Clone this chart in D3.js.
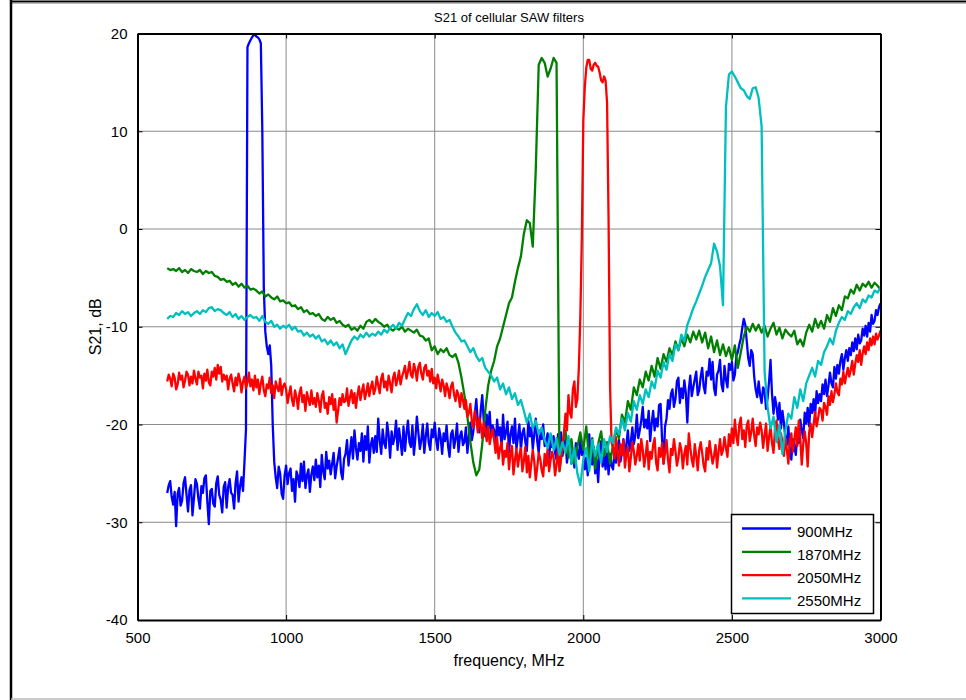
<!DOCTYPE html>
<html>
<head>
<meta charset="utf-8">
<script src="https://cdn.jsdelivr.net/npm/d3@7/dist/d3.min.js"></script>
<style>
  body { margin: 0; background: #fff; }
  svg text { font-family: "Liberation Sans", Arial, sans-serif; fill: #000; }
</style>
</head>
<body>
<div id="container"></div>
<script>
// sweeps start at 600 MHz; blue and red were read every 5 MHz, green and cyan every 10 MHz
const freqStart = 600;

// S21 (dB), 900MHz filter, 5 MHz per sample, one row per 100 MHz
const s900 = [
  -27.0, -26.2, -25.8, -27.4, -28.2, -26.9, -30.4, -27.1, -26.5, -28.3, -27.8, -26.0, -25.4, -27.2, -28.9, -26.7, -26.2, -29.3, -27.5, -25.6,
  -26.1, -27.6, -28.6, -26.3, -27.0, -25.5, -25.2, -27.9, -30.2, -26.8, -26.6, -28.1, -28.4, -26.0, -25.3, -27.2, -27.7, -29.0, -26.4, -25.9,
  -28.5, -26.4, -25.6, -27.0, -27.2, -28.6, -26.0, -24.8, -27.9, -26.3, -25.4, -26.8, -23.8, -20.5, 18.6, 19.0, 19.3, 19.6, 19.8, 19.9,
  19.7, 19.6, 19.4, 19.0, 10.0, -6.0, -10.5, -12.0, -12.8, -11.9, -14.0, -20.0, -23.8, -25.4, -26.5, -24.3, -25.0, -27.1, -27.6, -25.2,
  -24.2, -26.1, -25.0, -24.5, -26.8, -25.6, -27.9, -24.8, -25.3, -26.4, -24.0, -25.8, -23.8, -26.5, -25.2, -24.6, -26.9, -25.1, -24.3, -25.7,
  -23.6, -25.4, -24.2, -26.4, -23.1, -24.8, -25.6, -22.8, -24.5, -23.7, -25.1, -24.0, -22.9, -25.5, -24.3, -23.4, -22.4, -24.9, -25.6, -23.5,
  -23.0, -21.6, -24.2, -22.8, -21.3, -23.5, -20.6, -22.4, -23.6, -21.9, -22.7, -20.9, -23.8, -21.2, -22.6, -20.2, -23.9, -22.1, -21.4, -22.9,
  -21.2, -22.8, -19.4, -21.6, -23.0, -20.5, -21.9, -22.4, -19.8, -21.1, -23.4, -20.7, -22.0, -21.3, -19.6, -22.6, -20.4, -21.7, -23.1, -20.2,
  -22.7, -20.9, -19.6, -21.8, -22.3, -20.1, -23.1, -21.4, -19.2, -20.8, -22.5, -21.6, -20.0, -22.9, -21.2, -19.9, -21.9, -22.6, -20.5, -21.3,
  -19.8, -21.6, -22.6, -20.4, -21.3, -23.0, -20.9, -21.7, -20.1, -22.2, -23.3, -21.0, -20.6, -22.4, -21.5, -19.9, -22.8, -21.2, -20.7, -22.1,
  -21.8, -20.3, -22.9, -21.2, -19.8, -21.6, -20.7, -18.9, -17.4, -19.9, -20.8, -18.5, -17.0, -19.6, -21.2, -19.0, -20.4, -18.7, -21.3, -20.1,
  -20.6, -22.3, -19.5, -21.1, -20.3, -22.4, -19.0, -21.5, -20.8, -19.7, -22.8, -21.0, -20.2, -21.9, -19.4, -22.5, -21.3, -20.0, -22.6, -20.9,
  -20.4, -21.8, -22.7, -19.6, -21.2, -20.3, -22.5, -21.0, -19.4, -21.7, -22.9, -20.6, -21.5, -20.0, -22.2, -21.8, -20.9, -23.4, -21.6, -22.3,
  -21.2, -22.9, -23.6, -21.0, -22.4, -20.8, -23.2, -22.1, -21.5, -23.9, -22.6, -21.7, -24.0, -22.8, -24.4, -21.9, -22.7, -23.5, -21.6, -23.1,
  -22.5, -24.6, -23.4, -25.2, -21.0, -23.8, -24.1, -22.3, -25.0, -23.6, -25.9, -22.7, -21.7, -24.3, -23.1, -24.6, -22.6, -25.1, -23.0, -24.2,
  -24.6, -22.8, -23.9, -22.4, -21.6, -23.8, -22.9, -21.5, -23.2, -22.0, -20.6, -22.7, -21.8, -20.3, -22.0, -21.1, -19.0, -21.4, -20.6, -19.6,
  -18.2, -20.3, -19.5, -20.4, -18.6, -21.7, -19.9, -18.6, -20.6, -19.4, -20.2, -18.0, -17.9, -21.5, -24.0, -20.2, -19.4, -17.5, -18.4, -16.9,
  -16.4, -18.2, -17.4, -15.6, -15.2, -17.8, -16.3, -17.3, -15.5, -16.8, -19.8, -16.4, -15.0, -17.1, -16.2, -15.4, -14.6, -17.0, -16.5, -15.1,
  -14.2, -16.1, -16.8, -14.6, -15.0, -13.3, -15.4, -13.6, -16.3, -17.0, -14.9, -14.5, -13.4, -15.9, -16.6, -14.0, -15.4, -16.2, -13.8, -14.4,
  -13.6, -15.5, -14.9, -13.0, -12.6, -11.8, -11.2, -10.1, -9.2, -9.8, -11.5, -13.2, -14.0, -12.4, -12.8, -15.1, -16.4, -17.2, -15.6, -17.0,
  -17.8, -16.2, -16.5, -18.4, -17.3, -15.6, -13.4, -16.9, -18.9, -17.2, -18.1, -19.5, -17.8, -20.4, -18.6, -19.8, -21.4, -22.1, -20.2, -22.6,
  -23.6, -21.5, -22.2, -23.1, -20.8, -21.9, -19.5, -20.6, -21.4, -18.8, -19.9, -18.3, -20.2, -17.9, -18.8, -17.4, -19.0, -16.6, -17.8, -16.9,
  -17.6, -15.9, -16.9, -15.4, -17.1, -16.0, -14.7, -15.8, -16.2, -14.1, -15.3, -13.9, -14.8, -13.5, -12.8, -14.4, -13.2, -12.4, -13.5, -12.2,
  -12.9, -11.6, -12.5, -11.2, -12.3, -10.8, -11.7, -11.4, -10.2, -10.9, -9.9, -11.0, -9.6, -10.5, -8.8, -9.7, -9.4, -8.3, -8.8, -8.0,
  -7.6
];

// S21 (dB), 1870MHz filter, 10 MHz per sample
const s1870 = [
  -4.0, -4.2, -4.1, -4.3, -4.0, -4.4, -4.2, -4.5, -4.1, -4.3,
  -4.4, -4.2, -4.6, -4.3, -4.5, -4.4, -4.8, -4.9, -5.2, -5.1,
  -5.4, -5.3, -5.7, -5.5, -5.9, -5.6, -6.0, -5.8, -6.2, -6.1,
  -6.3, -6.6, -6.4, -6.9, -6.7, -7.0, -7.2, -6.9, -7.4, -7.3,
  -7.6, -7.5, -7.9, -7.8, -8.2, -8.0, -8.5, -8.3, -8.7, -8.6,
  -8.9, -8.7, -9.2, -9.4, -9.0, -9.3, -9.1, -9.6, -9.4, -9.8,
  -10.0, -9.8, -10.3, -10.1, -10.4, -9.9, -10.2, -9.5, -9.3, -9.6,
  -9.2, -9.5, -9.7, -10.0, -9.8, -10.2, -10.4, -10.1, -10.3, -10.0,
  -10.5, -10.2, -10.4, -10.6, -10.3, -10.9, -11.0, -11.4, -11.2, -12.4,
  -12.0, -12.8, -12.3, -12.6, -12.2, -12.9, -13.1, -12.8, -13.7, -15.2,
  -17.0, -19.2, -21.8, -23.9, -25.2, -24.6, -22.0, -18.6, -16.0, -14.5,
  -13.5, -12.0, -11.2, -10.0, -8.8, -7.6, -7.0, -5.4, -4.0, -2.8,
  -0.5, 0.9, 0.6, -1.8, 6.0, 16.8, 17.5, 17.0, 15.6, 16.4,
  17.5, 17.0, -24.8, -22.0, -20.6, -23.4, -21.5, -24.0, -22.3, -20.8,
  -22.6, -20.2, -23.8, -21.4, -24.5, -22.0, -20.7, -23.2, -21.8, -24.0,
  -22.0, -20.6, -21.4, -19.0, -19.8, -17.6, -18.5, -16.2, -17.0, -15.4,
  -16.2, -14.6, -15.5, -14.0, -15.1, -13.2, -14.3, -12.8, -13.6, -12.2,
  -12.9, -11.5, -12.4, -11.2, -12.0, -10.8, -11.6, -10.5, -11.3, -10.4,
  -11.6, -10.6, -12.2, -11.0, -12.6, -11.4, -12.9, -11.8, -13.0, -12.1,
  -13.4, -11.9, -14.2, -12.6, -11.0, -10.0, -10.5, -9.7, -10.4, -9.8,
  -10.6, -9.9, -11.0, -10.2, -9.6, -10.8, -10.1, -11.2, -10.3, -10.7,
  -11.0, -10.4, -11.8, -11.3, -12.0, -10.6, -9.8, -10.5, -9.2, -10.1,
  -9.4, -10.2, -8.8, -9.5, -8.1, -8.9, -7.8, -8.3, -6.9, -7.1,
  -6.2, -6.6, -5.7, -6.3, -5.6, -5.9, -5.4, -6.0, -5.5, -5.8,
  -6.2
];

// S21 (dB), 2050MHz filter, 5 MHz per sample
const s2050 = [
  -15.6, -14.9, -15.3, -16.1, -14.8, -15.2, -16.4, -15.9, -14.7, -15.4, -15.0, -16.2, -15.5, -14.6, -14.9, -16.0, -15.1, -15.8, -14.5, -15.3,
  -15.9, -14.6, -15.2, -15.0, -16.3, -14.8, -15.5, -14.4, -15.7, -16.0, -14.6, -15.1, -14.2, -15.4, -13.9, -14.8, -14.1, -15.6, -14.9, -15.4,
  -15.0, -16.4, -15.3, -14.9, -15.8, -16.6, -15.2, -16.0, -14.8, -15.5, -16.7, -15.6, -15.1, -16.3, -15.7, -14.7, -16.1, -15.4, -16.5, -15.0,
  -16.2, -15.4, -16.9, -15.8, -15.1, -16.5, -17.1, -15.9, -16.3, -15.2, -16.8, -16.0, -17.3, -15.6, -16.2, -16.6, -15.3, -17.0, -16.1, -15.8,
  -16.4, -17.8, -16.9, -16.1, -17.5, -18.1, -16.5, -17.2, -18.4, -16.8, -16.2, -17.7, -17.0, -18.6, -16.7, -17.4, -18.0, -16.5, -17.9, -17.3,
  -18.2, -16.8, -17.6, -18.7, -17.1, -16.6, -18.3, -17.8, -18.9, -17.2, -17.9, -16.9, -18.5, -17.4, -19.8, -18.6, -17.3, -18.0, -16.9, -17.7,
  -17.6, -16.3, -18.1, -17.2, -16.5, -17.8, -16.8, -18.3, -17.0, -16.1, -17.5, -16.6, -15.9, -17.4, -16.7, -15.8, -17.1, -16.2, -15.6, -16.9,
  -16.4, -15.1, -16.0, -16.8, -15.3, -14.8, -16.2, -15.6, -16.5, -15.0, -15.8, -16.7, -15.2, -14.7, -16.0, -15.4, -14.5, -15.9, -15.1, -14.6,
  -14.0, -15.3, -14.6, -13.6, -14.9, -15.2, -13.8, -14.4, -15.5, -14.1, -13.7, -14.8, -15.4, -14.2, -13.9, -15.0, -14.5, -15.6, -14.3, -15.8,
  -15.2, -16.3, -14.9, -15.7, -16.6, -15.4, -16.0, -17.1, -15.8, -16.4, -17.3, -16.1, -15.7, -16.9, -17.6, -16.5, -17.0, -18.2, -16.8, -17.5,
  -18.4, -17.5, -19.2, -18.8, -17.9, -19.7, -20.3, -18.6, -19.5, -20.8, -19.3, -20.1, -21.4, -19.8, -20.6, -21.7, -20.2, -22.0, -21.1, -20.5,
  -21.6, -22.9, -21.3, -23.5, -22.4, -21.8, -24.1, -22.7, -23.3, -21.9, -24.6, -23.0, -22.2, -25.1, -23.6, -22.5, -24.3, -23.1, -22.4, -24.8,
  -23.7, -22.3, -24.9, -23.2, -25.4, -24.0, -22.6, -23.8, -25.7, -24.4, -22.9, -23.5, -24.7, -25.3, -23.0, -24.2, -22.5, -24.8, -23.6, -22.8,
  -23.4, -25.2, -24.1, -22.6, -24.7, -23.5, -22.2, -20.8, -18.9, -20.6, -17.0, -18.8, -19.3, -16.4, -15.6, -18.2, -17.4, -14.2, -9.0, -1.0,
  11.0, 14.5, 16.5, 17.3, 17.3, 16.4, 16.2, 16.8, 17.0, 16.7, 16.6, 16.0, 15.2, 15.0, 15.6, 15.2, 12.9, 1.0, -16.0, -21.8,
  -22.4, -23.5, -21.3, -22.9, -24.2, -22.0, -23.1, -21.6, -24.4, -23.0, -22.3, -24.8, -23.4, -21.8, -22.7, -24.1, -23.2, -22.0, -23.7, -21.5,
  -22.6, -24.3, -23.1, -21.7, -24.6, -22.8, -23.5, -22.1, -21.4, -23.9, -24.7, -22.4, -23.3, -21.9, -24.0, -22.9, -21.6, -23.6, -24.9, -22.5,
  -23.1, -21.5, -22.7, -24.2, -23.4, -21.9, -22.6, -24.5, -23.0, -22.2, -24.1, -20.9, -22.4, -23.6, -24.3, -22.0, -23.2, -24.7, -22.6, -21.8,
  -22.9, -24.2, -24.8, -22.4, -23.6, -21.7, -22.9, -24.0, -23.2, -22.1, -24.4, -22.8, -21.5, -23.1, -22.6, -21.3, -22.4, -23.3, -21.0, -22.2,
  -20.4, -21.9, -19.5, -21.2, -22.1, -20.0, -19.3, -21.5, -20.6, -22.3, -20.1, -19.6, -21.7, -20.8, -19.4, -21.1, -22.2, -20.3, -21.0, -19.8,
  -20.6, -22.4, -21.1, -19.9, -22.7, -21.3, -20.2, -21.9, -22.9, -20.5, -19.6, -21.6, -22.5, -20.9, -21.8, -23.2, -21.4, -22.6, -24.0, -21.7,
  -20.9, -22.8, -21.6, -20.3, -22.2, -19.6, -21.4, -24.1, -22.0, -20.7, -21.9, -24.3, -20.8, -19.9, -21.3, -20.0, -18.7, -20.2, -19.4, -18.3,
  -18.5, -19.6, -17.8, -18.2, -19.0, -17.1, -18.0, -16.6, -17.7, -16.9, -15.8, -16.7, -17.0, -15.3, -15.9, -14.6, -15.8, -15.0, -14.2, -15.1,
  -14.4, -13.5, -14.9, -13.8, -12.9, -13.6, -12.4, -13.9, -12.7, -12.0, -12.8, -11.6, -12.4, -11.2, -11.9, -11.0, -11.8, -10.7, -11.3, -10.9,
  -10.4
];

// S21 (dB), 2550MHz filter, 10 MHz per sample
const s2550 = [
  -9.2, -8.9, -9.0, -8.6, -8.8, -8.4, -8.7, -8.5, -8.9, -8.6,
  -8.4, -8.7, -8.3, -8.5, -8.1, -8.0, -8.4, -8.2, -8.3, -8.6,
  -8.8, -8.5, -9.0, -8.7, -9.2, -8.9, -9.3, -9.0, -8.8, -9.1,
  -9.0, -9.4, -8.9, -9.5, -9.7, -9.4, -10.0, -9.8, -10.2, -9.9,
  -10.1, -9.8, -10.3, -10.0, -10.5, -10.4, -10.9, -10.6, -11.0, -10.8,
  -11.2, -10.9, -11.5, -11.3, -11.8, -11.4, -11.9, -11.6, -12.2, -11.8,
  -12.8, -12.1, -11.4, -11.0, -11.3, -10.8, -11.1, -10.6, -11.0, -10.7,
  -10.9, -10.5, -10.8, -10.3, -10.6, -10.1, -9.8, -10.2, -9.6, -9.9,
  -9.2, -8.6, -8.9, -8.2, -7.7, -8.4, -8.8, -8.3, -9.0, -8.6,
  -8.9, -8.5, -9.2, -9.0, -9.5, -9.3, -10.0, -10.6, -11.0, -11.5,
  -11.4, -12.0, -12.6, -12.2, -13.0, -13.5, -13.2, -14.2, -14.6, -15.0,
  -15.6, -15.2, -16.4, -15.8, -16.9, -16.2, -17.4, -16.8, -18.0, -17.5,
  -18.6, -19.8, -18.9, -20.4, -19.6, -21.0, -20.3, -21.6, -22.4, -20.9,
  -22.6, -21.4, -23.1, -21.8, -22.9, -21.2, -24.0, -22.4, -25.0, -26.2,
  -23.6, -22.4, -24.8, -21.6, -23.2, -22.0, -23.9, -21.5, -22.8, -21.2,
  -21.9, -20.3, -21.0, -19.4, -20.6, -18.8, -19.7, -17.6, -18.5, -17.0,
  -17.9, -16.4, -17.2, -15.6, -16.3, -14.5, -15.2, -13.6, -14.4, -12.8,
  -13.5, -11.8, -12.4, -10.8, -11.5, -9.8, -9.0, -8.1, -7.4, -6.6,
  -5.8, -4.9, -4.2, -3.5, -1.5, -2.3, -3.8, -7.8, 12.5, 15.8,
  16.1, 15.6, 15.0, 14.4, 14.2, 13.6, 13.3, 14.4, 14.5, 13.4,
  10.5, -14.6, -18.2, -20.4, -19.2, -21.8, -20.0, -23.0, -20.6, -18.9,
  -19.4, -17.2, -18.3, -16.4, -17.6, -15.8, -15.0, -14.2, -15.1, -13.5,
  -13.9, -12.6, -12.0, -11.2, -11.8, -10.4, -9.6, -9.0, -9.3, -8.4,
  -8.7, -8.0, -7.6, -8.1, -7.2, -7.5, -6.8, -7.0, -6.3, -6.5,
  -6.0
];

const seriesNames = ['900MHz', '1870MHz', '2050MHz', '2550MHz'];
const seriesColors = ['#0000ff', '#008000', '#ff0000', '#00bfbf'];
const seriesSteps = [5, 10, 5, 10];
const xTicks = [500, 1000, 1500, 2000, 2500, 3000];
const yTicks = [-40, -30, -20, -10, 0, 10, 20];

const width = 966;
const height = 700;
const plotLeft = 137.5, plotRight = 880.5, plotTop = 33.5, plotBottom = 620;

const svg = d3.select('#container').append('svg')
  .attr('width', width)
  .attr('height', height);

// figure frame
svg.append('line').attr('x1', 10).attr('x2', width).attr('y1', 1.5).attr('y2', 1.5)
  .attr('stroke', '#000').attr('stroke-width', 2);
svg.append('line').attr('x1', 10).attr('x2', width).attr('y1', 3.5).attr('y2', 3.5)
  .attr('stroke', '#bbb').attr('stroke-width', 1);
svg.append('line').attr('x1', 11).attr('x2', 11).attr('y1', 0).attr('y2', height)
  .attr('stroke', '#000').attr('stroke-width', 2.5);
svg.append('line').attr('x1', 11).attr('x2', width).attr('y1', 699).attr('y2', 699)
  .attr('stroke', '#bbb').attr('stroke-width', 1.5);

const xScale = d3.scaleLinear().domain([500, 3000]).range([plotLeft, plotRight]);
const yScale = d3.scaleLinear().domain([-40, 20]).range([plotBottom, plotTop]);

// grid
svg.append('g').selectAll('line')
  .data(xTicks.slice(1, -1))
  .enter().append('line')
  .attr('x1', d => xScale(d)).attr('x2', d => xScale(d))
  .attr('y1', plotTop).attr('y2', plotBottom)
  .attr('stroke', '#8a8a8a').attr('stroke-width', 1);
svg.append('g').selectAll('line')
  .data(yTicks.slice(1, -1))
  .enter().append('line')
  .attr('x1', plotLeft).attr('x2', plotRight)
  .attr('y1', d => yScale(d)).attr('y2', d => yScale(d))
  .attr('stroke', '#8a8a8a').attr('stroke-width', 1);

// curves
svg.append('clipPath').attr('id', 'plotclip')
  .append('rect').attr('x', plotLeft).attr('y', plotTop)
  .attr('width', plotRight - plotLeft).attr('height', plotBottom - plotTop);

const allSeries = [s900, s1870, s2050, s2550];

svg.append('g').attr('clip-path', 'url(#plotclip)')
  .selectAll('path')
  .data(allSeries)
  .enter().append('path')
  .attr('d', (vals, k) => d3.line()
    .x((d, i) => xScale(freqStart + i * seriesSteps[k]))
    .y(d => yScale(d))(vals))
  .attr('fill', 'none')
  .attr('stroke', (d, i) => seriesColors[i])
  .attr('stroke-width', 2.3)
  .attr('stroke-linejoin', 'round');

// axes (ticks point inward, box on all four sides)
const fmt = d => String(d);
const xAxisB = d3.axisBottom(xScale).tickValues(xTicks).tickFormat(fmt).tickSizeInner(-5).tickSizeOuter(0).tickPadding(12);
const xAxisT = d3.axisTop(xScale).tickValues(xTicks).tickSizeInner(-5).tickSizeOuter(0).tickFormat('');
const yAxisL = d3.axisLeft(yScale).tickValues(yTicks).tickFormat(fmt).tickSizeInner(-5).tickSizeOuter(0).tickPadding(10);
const yAxisR = d3.axisRight(yScale).tickValues(yTicks).tickSizeInner(-5).tickSizeOuter(0).tickFormat('');

function styleAxis(g) {
  g.select('.domain').attr('stroke', '#000').attr('stroke-width', 2);
  g.selectAll('.tick line').attr('stroke', '#000').attr('stroke-width', 1);
  g.selectAll('.tick text')
    .style('font-family', '"Liberation Sans", Arial, sans-serif')
    .style('font-size', '15px').attr('fill', '#000');
}

svg.append('g').attr('transform', `translate(0,${plotBottom})`).call(xAxisB).call(styleAxis);
svg.append('g').attr('transform', `translate(0,${plotTop})`).call(xAxisT).call(styleAxis);
svg.append('g').attr('transform', `translate(${plotLeft},0)`).call(yAxisL).call(styleAxis);
svg.append('g').attr('transform', `translate(${plotRight},0)`).call(yAxisR).call(styleAxis);

// labels
svg.append('text')
  .attr('x', (plotLeft + plotRight) / 2).attr('y', 22)
  .attr('text-anchor', 'middle')
  .style('font-size', '13px')
  .text('S21 of cellular SAW filters');

svg.append('text')
  .attr('x', (plotLeft + plotRight) / 2).attr('y', 666)
  .attr('text-anchor', 'middle')
  .style('font-size', '16px')
  .text('frequency, MHz');

svg.append('text')
  .attr('transform', `translate(101,${(plotTop + plotBottom) / 2}) rotate(-90)`)
  .attr('text-anchor', 'middle')
  .style('font-size', '16px')
  .text('S21, dB');

// legend
const legX = 731.5, legY = 514.5, legW = 142, legH = 99;
const legend = svg.append('g');
legend.append('rect')
  .attr('x', legX).attr('y', legY).attr('width', legW).attr('height', legH)
  .attr('fill', '#fff').attr('stroke', '#000').attr('stroke-width', 1.5);

const rows = legend.selectAll('g.row')
  .data(seriesNames)
  .enter().append('g')
  .attr('class', 'row')
  .attr('transform', (d, i) => `translate(0,${528.5 + i * 23.3})`);
rows.append('line')
  .attr('x1', 742).attr('x2', 791)
  .attr('stroke', (d, i) => seriesColors[i])
  .attr('stroke-width', 2.3);
rows.append('text')
  .attr('x', 797).attr('y', 8)
  .style('font-size', '15px')
  .text(d => d);
</script>
</body>
</html>
